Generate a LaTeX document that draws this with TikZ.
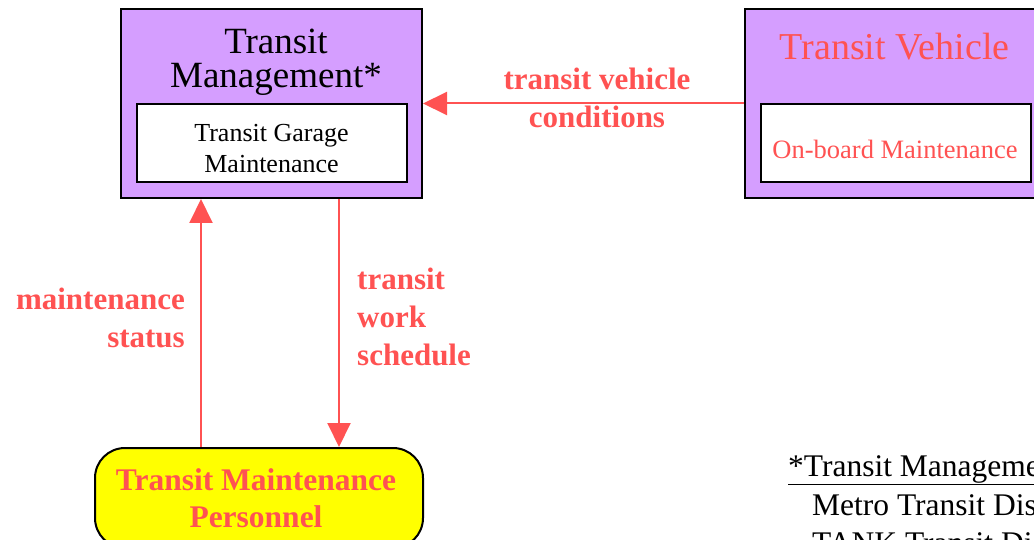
\documentclass[tikz,border=0pt]{standalone}
\usepackage{fontspec}
\setmainfont{Liberation Serif}
\usetikzlibrary{arrows.meta}
\definecolor{flowred}{RGB}{255,82,82}
\definecolor{boxpurple}{RGB}{213,158,255}
\definecolor{persyellow}{RGB}{255,255,0}
\tikzset{
  outerbox/.style={draw=black,line width=2pt,fill=boxpurple,inner sep=0pt,minimum width=301pt,minimum height=189pt},
  innerbox/.style={draw=black,line width=2pt,fill=white,inner sep=0pt,minimum width=270pt,minimum height=78pt},
  persbox/.style={draw=black,line width=2pt,fill=persyellow,rounded corners=30pt,inner sep=0pt,minimum width=328pt,minimum height=100pt},
  flow/.style={draw=flowred,line width=2pt,-{Triangle[length=24pt,width=23pt]}},
  flowlabel/.style={text=flowred,font=\fontsize{31}{38}\selectfont\bfseries,inner sep=0pt},
  titletext/.style={font=\fontsize{37}{34}\selectfont,inner sep=0pt,align=center},
  smalltext/.style={font=\fontsize{26}{31}\selectfont,inner sep=0pt,align=center},
  notetext/.style={font=\fontsize{31.5}{37}\selectfont,inner sep=0pt,anchor=base west}
}
\begin{document}
\begin{tikzpicture}[x=1pt,y=-1pt]
\useasboundingbox (0,0) rectangle (1034,540);
\clip (0,0) rectangle (1034,540);
\fill[white] (0,0) rectangle (1034,540);
% Transit Management
\node[outerbox] (tm) at (271.5,103.5) {};
\node[titletext,anchor=base] (tmtitle) at (276,88) {Transit\\Management*};
\node[innerbox] (tgm) at (272,143) {};
\node[smalltext,anchor=base] (tgmtext) at (271.5,173) {Transit Garage\\Maintenance};
% Transit Vehicle
\node[outerbox] (tv) at (895.5,103.5) {};
\node[titletext,anchor=base,text=flowred,font=\fontsize{38}{34}\selectfont] (tvtitle) at (894.5,60) {Transit Vehicle};
\node[innerbox] (obm) at (896,143) {};
\node[smalltext,anchor=base,text=flowred,font=\fontsize{26.5}{31}\selectfont] (obmtext) at (895,159) {On-board Maintenance};
% Personnel
\node[persbox] (pers) at (259,498) {};
\node[flowlabel,align=center,anchor=base,font=\fontsize{31.5}{37}\selectfont\bfseries] (perstext) at (256,527) {Transit Maintenance\\Personnel};
% connectors
\coordinate (upx) at (201,0);
\coordinate (downx) at (339,0);
\draw[flow] (tv.west) -- (tm.east);
\draw[flow] (pers.north -| upx) -- (tm.south -| upx);
\draw[flow] (tm.south -| downx) -- (pers.north -| downx);
% labels
\node[flowlabel,align=center,anchor=base] (lcond) at (597,128) {transit vehicle\\conditions};
\node[flowlabel,align=right,anchor=base east] (lstat) at (185,347) {maintenance\\status};
\node[flowlabel,align=left,anchor=base west] (lsched) at (357,365) {transit\\work\\schedule};
% footnote
\node[notetext] (note1) at (788,476) {\underline{*Transit Management}};
\node[notetext] (note2) at (812,515) {Metro Transit District};
\node[notetext] (note3) at (812,553) {TANK Transit District};
\end{tikzpicture}
\end{document}
